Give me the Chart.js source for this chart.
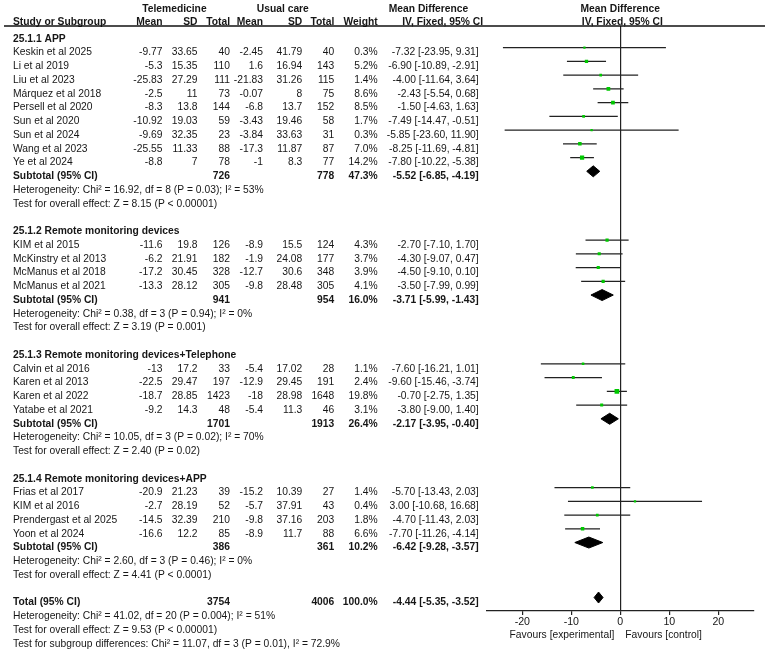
<!DOCTYPE html>
<html>
<head>
<meta charset="utf-8">
<script src="https://cdn.jsdelivr.net/npm/chart.js@4.4.1/dist/chart.umd.min.js"></script>
<style>
  body { margin: 0; background: #fff; }
  canvas { display: block; }
</style>
</head>
<body>
<canvas id="forest" width="767" height="651"></canvas>
<script>
// ---- data ----
const groups = ['25.1.1 APP', '25.1.2 Remote monitoring devices', '25.1.3 Remote monitoring devices+Telephone', '25.1.4 Remote monitoring devices+APP'];
const groupSizes = [9, 4, 4, 4];

const studies = [
  'Keskin et al 2025', 'Li et al 2019', 'Liu et al 2023', 'Márquez et al 2018', 'Persell et al 2020',
  'Sun et al 2020', 'Sun et al 2024', 'Wang et al 2023', 'Ye et al 2024',
  'KIM et al 2015', 'McKinstry et al 2013', 'McManus et al 2018', 'McManus et al 2021',
  'Calvin et al 2016', 'Karen et al 2013', 'Karen et al 2022', 'Yatabe et al 2021',
  'Frias et al 2017', 'KIM et al 2016', 'Prendergast et al 2025', 'Yoon et al 2024'
];
const telMean = [-9.77, -5.3, -25.83, -2.5, -8.3, -10.92, -9.69, -25.55, -8.8, -11.6, -6.2, -17.2, -13.3, -13, -22.5, -18.7, -9.2, -20.9, -2.7, -14.5, -16.6];
const telSD   = [33.65, 15.35, 27.29, 11, 13.8, 19.03, 32.35, 11.33, 7, 19.8, 21.91, 30.45, 28.12, 17.2, 29.47, 28.85, 14.3, 21.23, 28.19, 32.39, 12.2];
const telN    = [40, 110, 111, 73, 144, 59, 23, 88, 78, 126, 182, 328, 305, 33, 197, 1423, 48, 39, 52, 210, 85];
const ucMean  = [-2.45, 1.6, -21.83, -0.07, -6.8, -3.43, -3.84, -17.3, -1, -8.9, -1.9, -12.7, -9.8, -5.4, -12.9, -18, -5.4, -15.2, -5.7, -9.8, -8.9];
const ucSD    = [41.79, 16.94, 31.26, 8, 13.7, 19.46, 33.63, 11.87, 8.3, 15.5, 24.08, 30.6, 28.48, 17.02, 29.45, 28.98, 11.3, 10.39, 37.91, 37.16, 11.7];
const ucN     = [40, 143, 115, 75, 152, 58, 31, 87, 77, 124, 177, 348, 305, 28, 191, 1648, 46, 27, 43, 203, 88];
const weight  = [0.3, 5.2, 1.4, 8.6, 8.5, 1.7, 0.3, 7.0, 14.2, 4.3, 3.7, 3.9, 4.1, 1.1, 2.4, 19.8, 3.1, 1.4, 0.4, 1.8, 6.6];
const md      = [-7.32, -6.90, -4.00, -2.43, -1.50, -7.49, -5.85, -8.25, -7.80, -2.70, -4.30, -4.50, -3.50, -7.60, -9.60, -0.70, -3.80, -5.70, 3.00, -4.70, -7.70];
const ciLow   = [-23.95, -10.89, -11.64, -5.54, -4.63, -14.47, -23.60, -11.69, -10.22, -7.10, -9.07, -9.10, -7.99, -16.21, -15.46, -2.75, -9.00, -13.43, -10.68, -11.43, -11.26];
const ciHigh  = [9.31, -2.91, 3.64, 0.68, 1.63, -0.51, 11.90, -4.81, -5.38, 1.70, 0.47, 0.10, 0.99, 1.01, -3.74, 1.35, 1.40, 2.03, 16.68, 2.03, -4.14];

const subTelN   = [726, 941, 1701, 386];
const subUcN    = [778, 954, 1913, 361];
const subWeight = [47.3, 16.0, 26.4, 10.2];
const subMD     = [-5.52, -3.71, -2.17, -6.42];
const subLow    = [-6.85, -5.99, -3.95, -9.28];
const subHigh   = [-4.19, -1.43, -0.40, -3.57];
const subHet = [
  'Heterogeneity: Chi² = 16.92, df = 8 (P = 0.03); I² = 53%',
  'Heterogeneity: Chi² = 0.38, df = 3 (P = 0.94); I² = 0%',
  'Heterogeneity: Chi² = 10.05, df = 3 (P = 0.02); I² = 70%',
  'Heterogeneity: Chi² = 2.60, df = 3 (P = 0.46); I² = 0%'
];
const subTest = [
  'Test for overall effect: Z = 8.15 (P < 0.00001)',
  'Test for overall effect: Z = 3.19 (P = 0.001)',
  'Test for overall effect: Z = 2.40 (P = 0.02)',
  'Test for overall effect: Z = 4.41 (P < 0.0001)'
];

const totalTelN = 3754, totalUcN = 4006, totalWeight = 100.0;
const totalMD = -4.44, totalLow = -5.35, totalHigh = -3.52;
const totalNotes = [
  'Heterogeneity: Chi² = 41.02, df = 20 (P = 0.004); I² = 51%',
  'Test for overall effect: Z = 9.53 (P < 0.00001)',
  'Test for subgroup differences: Chi² = 11.07, df = 3 (P = 0.01), I² = 72.9%'
];

const xTicks = [-20, -10, 0, 10, 20];

// ---- row layout ----
const FONT = "'Liberation Sans', Arial, sans-serif";
const INK = '#161616';
const studyRows = [];
const subRows = [];
const textRows = [];
let r = 0, s = 0;
groups.forEach((g, gi) => {
  textRows.push({ row: r++, kind: 'group', gi });
  for (let k = 0; k < groupSizes[gi]; k++) {
    textRows.push({ row: r, kind: 'study', si: s });
    studyRows[s++] = r++;
  }
  subRows[gi] = r;
  textRows.push({ row: r++, kind: 'sub', gi });
  textRows.push({ row: r++, kind: 'het', gi });
  textRows.push({ row: r++, kind: 'test', gi });
  r++;
});
const totalRow = r;

const DIAMOND_H = 0.4;
function diamond(lo, mid, hi, row) {
  return {
    data: [
      { x: lo, y: row }, { x: mid, y: row - DIAMOND_H },
      { x: hi, y: row }, { x: mid, y: row + DIAMOND_H }, { x: lo, y: row }
    ],
    showLine: true, fill: 'shape', pointRadius: 0,
    borderColor: '#000', backgroundColor: '#000', borderWidth: 1
  };
}

const datasets = [
  {
    data: studies.map((_, i) => ({ x: md[i], y: studyRows[i] })),
    pointStyle: 'rect',
    pointRadius: weight.map(w => (1.9 + 0.62 * Math.sqrt(w)) / Math.SQRT2),
    backgroundColor: '#00c800', borderWidth: 0
  },
  {
    data: studies.flatMap((_, i) => [
      { x: ciLow[i], y: studyRows[i] }, { x: ciHigh[i], y: studyRows[i] }, { x: null, y: null }
    ]),
    showLine: true, pointRadius: 0, borderColor: '#222', borderWidth: 1.2
  }
];
groups.forEach((g, gi) => datasets.push(diamond(subLow[gi], subMD[gi], subHigh[gi], subRows[gi])));
datasets.push(diamond(totalLow, totalMD, totalHigh, totalRow));

// column right edges (px)
const col = { tMean: 162.5, tSD: 197.5, tN: 230, uMean: 263, uSD: 302.3, uN: 334.3, w: 377.7, ci: 478.7 };
const ciText = (m, lo, hi) => m.toFixed(2) + ' [' + lo.toFixed(2) + ', ' + hi.toFixed(2) + ']';

const tablePlugin = {
  id: 'tableText',
  afterDraw(chart) {
    const { ctx, chartArea, scales: { x, y } } = chart;
    // glyphs in the picture are ~11px tall but set a little narrow
    const put = (t, px, py, align, bold) => {
      ctx.save();
      ctx.font = (bold ? 'bold ' : '') + '11px ' + FONT;
      ctx.textAlign = align;
      ctx.translate(px, py);
      ctx.scale(0.936, 1);
      ctx.fillText(t, 0, 0);
      ctx.restore();
    };
    ctx.save();
    ctx.fillStyle = INK;
    ctx.textBaseline = 'alphabetic';

    // header
    put('Telemedicine', 174.4, 11.5, 'center', true);
    put('Usual care', 282.8, 11.5, 'center', true);
    put('Mean Difference', 428.5, 11.5, 'center', true);
    put('Mean Difference', x.getPixelForValue(0), 11.5, 'center', true);
    const hy = 24.5;
    put('Study or Subgroup', 13, hy, 'left', true);
    put('Mean', col.tMean, hy, 'right', true);
    put('SD', col.tSD, hy, 'right', true);
    put('Total', col.tN, hy, 'right', true);
    put('Mean', col.uMean, hy, 'right', true);
    put('SD', col.uSD, hy, 'right', true);
    put('Total', col.uN, hy, 'right', true);
    put('Weight', col.w, hy, 'right', true);
    put('IV, Fixed, 95% CI', 442.6, hy, 'center', true);
    put('IV, Fixed, 95% CI', x.getPixelForValue(0) + 2, hy, 'center', true);

    ctx.strokeStyle = '#111';
    ctx.lineWidth = 1.3;
    ctx.beginPath();
    ctx.moveTo(4, chartArea.top);
    ctx.lineTo(765, chartArea.top);
    ctx.stroke();

    const base = row => y.getPixelForValue(row) + 7.8;
    textRows.forEach(tr => {
      const py = base(tr.row);
      if (tr.kind === 'group') {
        put(groups[tr.gi], 13, py, 'left', true);
      } else if (tr.kind === 'study') {
        const i = tr.si;
        put(studies[i], 13, py, 'left', false);
        put(String(telMean[i]), col.tMean, py, 'right', false);
        put(String(telSD[i]), col.tSD, py, 'right', false);
        put(String(telN[i]), col.tN, py, 'right', false);
        put(String(ucMean[i]), col.uMean, py, 'right', false);
        put(String(ucSD[i]), col.uSD, py, 'right', false);
        put(String(ucN[i]), col.uN, py, 'right', false);
        put(weight[i].toFixed(1) + '%', col.w, py, 'right', false);
        put(ciText(md[i], ciLow[i], ciHigh[i]), col.ci, py, 'right', false);
      } else if (tr.kind === 'sub') {
        const g = tr.gi;
        put('Subtotal (95% CI)', 13, py, 'left', true);
        put(String(subTelN[g]), col.tN, py, 'right', true);
        put(String(subUcN[g]), col.uN, py, 'right', true);
        put(subWeight[g].toFixed(1) + '%', col.w, py, 'right', true);
        put(ciText(subMD[g], subLow[g], subHigh[g]), col.ci, py, 'right', true);
      } else if (tr.kind === 'het') {
        put(subHet[tr.gi], 13, py, 'left', false);
      } else {
        put(subTest[tr.gi], 13, py, 'left', false);
      }
    });

    const ty = base(totalRow);
    put('Total (95% CI)', 13, ty, 'left', true);
    put(String(totalTelN), col.tN, ty, 'right', true);
    put(String(totalUcN), col.uN, ty, 'right', true);
    put(totalWeight.toFixed(1) + '%', col.w, ty, 'right', true);
    put(ciText(totalMD, totalLow, totalHigh), col.ci, ty, 'right', true);
    totalNotes.forEach((t, k) => put(t, 13, base(totalRow + 1 + k), 'left', false));

    // favours labels under the axis
    const x0 = x.getPixelForValue(0);
    put('Favours [experimental]', x0 - 6, 637.5, 'right', false);
    put('Favours [control]', x0 + 5, 637.5, 'left', false);
    ctx.restore();
  }
};

new Chart(document.getElementById('forest'), {
  type: 'scatter',
  data: { datasets },
  options: {
    responsive: false,
    animation: false,
    layout: { padding: { left: 487, right: 13.4, top: 26, bottom: 0 } },
    plugins: { legend: { display: false }, tooltip: { enabled: false } },
    scales: {
      x: {
        type: 'linear', min: -27.2, max: 27.2,
        afterBuildTicks: sc => { sc.ticks = xTicks.map(v => ({ value: v })); },
        afterFit: sc => { sc.height = 40; },
        grid: {
          drawOnChartArea: true,
          color: c => (c.tick && c.tick.value === 0 ? '#222' : 'rgba(0,0,0,0)'),
          tickColor: '#222', tickLength: 4, lineWidth: 1.2
        },
        border: { display: true, color: '#222', width: 1.2 },
        ticks: { padding: 1, color: INK, font: { family: FONT, size: 10.6 }, maxRotation: 0, autoSkip: false }
      },
      y: { type: 'linear', display: false, reverse: true, min: -0.57, max: 41.98 }
    }
  },
  plugins: [tablePlugin]
});
</script>
</body>
</html>
